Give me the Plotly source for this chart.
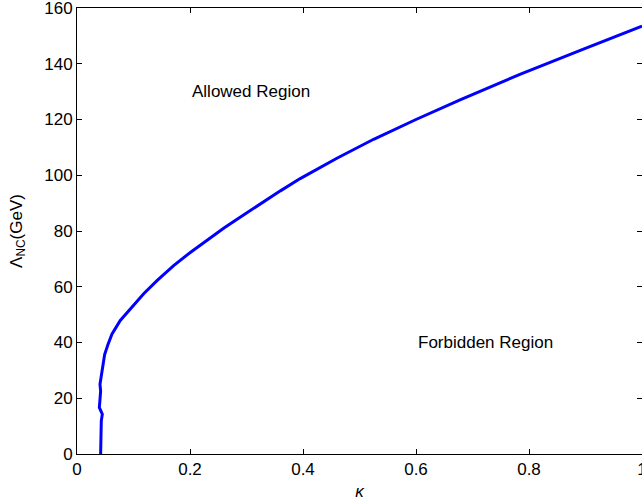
import plotly.graph_objects as go

# Data
kappa = [0.0418, 0.0425, 0.0418, 0.0430, 0.0448, 0.0395, 0.0405, 0.0418, 0.0407,
         0.0431, 0.0454, 0.0489, 0.0548, 0.0620, 0.0766, 0.0943, 0.1180, 0.1416,
         0.1710, 0.2005, 0.2300, 0.2595, 0.2800, 0.3010, 0.3600, 0.3950, 0.4600,
         0.5250, 0.6000, 0.6780, 0.7850, 0.8930, 1.0000]
lambda_nc = [0.0, 4.0, 7.1, 11.9, 14.3, 16.7, 19.0, 22.6, 25.0,
             28.6, 32.1, 35.7, 39.3, 43.1, 47.9, 52.1, 57.5, 62.2,
             67.6, 72.3, 76.8, 81.0, 83.8, 86.6, 94.4, 98.8, 106.1,
             112.9, 120.0, 127.0, 136.3, 145.0, 153.5]

x_ticks = [0, 0.2, 0.4, 0.6, 0.8, 1]
x_ticktext = ["0", "0.2", "0.4", "0.6", "0.8", "1"]
y_ticks = [0, 20, 40, 60, 80, 100, 120, 140, 160]

labels = ["Allowed Region", "Forbidden Region"]
label_x = [0.2, 0.6]
label_y = [130, 40]

FONT = "Liberation Sans, Arial, Helvetica, sans-serif"

fig = go.Figure()
fig.add_trace(go.Scatter(
    x=kappa, y=lambda_nc, mode="lines",
    line=dict(color="#0000ff", width=3),
    showlegend=False, hoverinfo="skip",
))

for t, xv, yv in zip(labels, label_x, label_y):
    fig.add_annotation(x=xv, y=yv, text=t, showarrow=False,
                       xanchor="left", yanchor="middle",
                       font=dict(family=FONT, size=17, color="black"))

axis_common = dict(
    showline=True, linecolor="black", linewidth=1,
    mirror="ticks", ticks="inside", ticklen=5, tickwidth=1, tickcolor="black",
    showgrid=False, zeroline=False, ticklabeloverflow="allow",
    tickfont=dict(family=FONT, size=17, color="black"),
)

fig.update_xaxes(range=[0, 1], tickvals=x_ticks, ticktext=x_ticktext,
                 title=dict(text="<i>κ</i>", font=dict(family=FONT, size=17, color="black"),
                            standoff=6),
                 **axis_common)
fig.update_yaxes(range=[0, 160], tickvals=y_ticks,
                 title=dict(text="Λ<sub>NC</sub>(GeV)", font=dict(family=FONT, size=17, color="black"),
                            standoff=17),
                 **axis_common)

fig.update_layout(
    width=642, height=501,
    margin=dict(l=77, r=0, t=8, b=47, autoexpand=False),
    plot_bgcolor="white", paper_bgcolor="white",
)

# remove the browser's default 8px body margin so the figure fills the window
fig.write_html("out.html", config={"displayModeBar": False},
               post_script="document.body.style.margin='0';document.body.style.overflow='hidden';")
